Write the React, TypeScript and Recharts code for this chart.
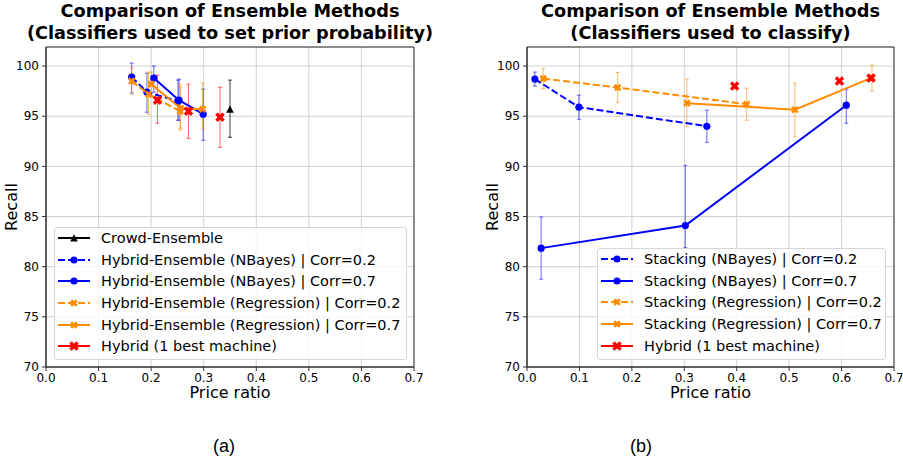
import React from "react";
import {
  ScatterChart,
  Scatter,
  XAxis,
  YAxis,
  CartesianGrid,
  ErrorBar,
  ReferenceArea,
} from "recharts";

const FONT = "'DejaVu Sans', sans-serif";

const xTicks = [0, 0.1, 0.2, 0.3, 0.4, 0.5, 0.6, 0.7];
const yTicks = [70, 75, 80, 85, 90, 95, 100];

// (a) classifiers used to set prior probability
const crowdA = [{ x: 0.35, y: 95.7, err: [2.8, 2.9] }];
const nbayes02A = [
  { x: 0.163, y: 98.9, err: [1.6, 1.4] },
  { x: 0.192, y: 97.4, err: [2.0, 1.9] },
  { x: 0.251, y: 96.5, err: [1.9, 2.1] },
];
const nbayes07A = [
  { x: 0.205, y: 98.8, err: [1.4, 1.2] },
  { x: 0.253, y: 96.6, err: [2.0, 2.1] },
  { x: 0.299, y: 95.2, err: [2.6, 2.5] },
];
const regr02A = [
  { x: 0.163, y: 98.5, err: [1.3, 1.3] },
  { x: 0.195, y: 97.2, err: [2.0, 2.2] },
  { x: 0.255, y: 95.5, err: [1.9, 2.7] },
];
const regr07A = [
  { x: 0.2, y: 98.2, err: [1.3, 1.2] },
  { x: 0.256, y: 95.8, err: [2.0, 2.1] },
  { x: 0.298, y: 95.7, err: [2.0, 2.6] },
];
const hybridA = [
  { x: 0.212, y: 96.6, err: [2.3, 2.5] },
  { x: 0.271, y: 95.5, err: [2.7, 2.7] },
  { x: 0.331, y: 94.9, err: [3.0, 3.0] },
];

// (b) classifiers used to classify
const nbayes02B = [
  { x: 0.015, y: 98.7, err: [0.7, 0.7] },
  { x: 0.099, y: 95.9, err: [1.2, 1.2] },
  { x: 0.343, y: 94.0, err: [1.6, 1.6] },
];
const nbayes07B = [
  { x: 0.027, y: 81.85, err: [3.1, 3.1] },
  { x: 0.302, y: 84.1, err: [2.2, 6.0] },
  { x: 0.609, y: 96.1, err: [1.8, 1.6] },
];
const regr02B = [
  { x: 0.031, y: 98.75, err: [1.0, 1.0] },
  { x: 0.173, y: 97.86, err: [1.5, 1.5] },
  { x: 0.419, y: 96.2, err: [1.6, 1.6] },
];
const regr07B = [
  { x: 0.305, y: 96.3, err: [2.35, 2.4] },
  { x: 0.511, y: 95.65, err: [2.7, 2.65] },
  { x: 0.658, y: 98.85, err: [1.35, 1.25] },
];
const hybridB = [
  { x: 0.396, y: 98.0 },
  { x: 0.596, y: 98.5 },
  { x: 0.656, y: 98.8 },
];

const BLUE = "#0000ff";
const ORANGE = "#ff8c00";
const RED = "#ff0000";

const seriesA = [
  { name: "Crowd-Ensemble", data: crowdA, color: "#000", err: "rgba(0,0,0,0.75)", dash: false, marker: "triangle", line: true },
  { name: "Hybrid-Ensemble (NBayes) | Corr=0.2", data: nbayes02A, color: BLUE, err: "rgba(0,0,255,0.6)", dash: true, marker: "circle", line: true },
  { name: "Hybrid-Ensemble (NBayes) | Corr=0.7", data: nbayes07A, color: BLUE, err: "rgba(0,0,255,0.6)", dash: false, marker: "circle", line: true },
  { name: "Hybrid-Ensemble (Regression) | Corr=0.2", data: regr02A, color: ORANGE, err: "rgba(255,140,0,0.6)", dash: true, marker: "smallX", line: true },
  { name: "Hybrid-Ensemble (Regression) | Corr=0.7", data: regr07A, color: ORANGE, err: "rgba(255,140,0,0.6)", dash: false, marker: "smallX", line: true },
  { name: "Hybrid (1 best machine)", data: hybridA, color: RED, err: "rgba(255,0,0,0.6)", dash: false, marker: "bigX", line: false },
];

const seriesB = [
  { name: "Stacking (NBayes) | Corr=0.2", data: nbayes02B, color: BLUE, err: "rgba(0,0,255,0.6)", dash: true, marker: "circle", line: true },
  { name: "Stacking (NBayes) | Corr=0.7", data: nbayes07B, color: BLUE, err: "rgba(0,0,255,0.6)", dash: false, marker: "circle", line: true },
  { name: "Stacking (Regression) | Corr=0.2", data: regr02B, color: ORANGE, err: "rgba(255,140,0,0.6)", dash: true, marker: "smallX", line: true },
  { name: "Stacking (Regression) | Corr=0.7", data: regr07B, color: ORANGE, err: "rgba(255,140,0,0.6)", dash: false, marker: "smallX", line: true },
  { name: "Hybrid (1 best machine)", data: hybridB, color: RED, err: null, dash: false, marker: "bigX", line: false },
];

const X_PTS = [
  [0.25, 0], [0.5, 0.25], [0.25, 0.5], [0, 0.25], [-0.25, 0.5], [-0.5, 0.25],
  [-0.25, 0], [-0.5, -0.25], [-0.25, -0.5], [0, -0.25], [0.25, -0.5], [0.5, -0.25],
];

function Marker({ kind, cx, cy, color }: any) {
  if (kind === "circle") return <circle cx={cx} cy={cy} r={3.6} fill={color} />;
  if (kind === "triangle")
    return (
      <polygon
        points={`${cx},${cy - 3.8} ${cx - 3.8},${cy + 3.6} ${cx + 3.8},${cy + 3.6}`}
        fill={color}
      />
    );
  const s = kind === "bigX" ? 9.5 : 7.5;
  const pts = X_PTS.map(([px, py]) => `${cx + px * s},${cy + py * s}`).join(" ");
  return <polygon points={pts} fill={color} />;
}

function Legend({ box, series }: any) {
  return (
    <div
      style={{
        position: "absolute",
        left: box.left,
        top: box.top,
        width: box.width,
        height: box.height,
        boxSizing: "border-box",
        border: "1px solid #d6d6d6",
        borderRadius: 3,
        background: "rgba(255,255,255,0.8)",
      }}
    >
      {series.map((s: any, i: number) => (
        <div
          key={s.name}
          style={{
            position: "absolute",
            left: 2,
            top: -1 + i * 21.7,
            height: 21.7,
            display: "flex",
            alignItems: "center",
            whiteSpace: "nowrap",
          }}
        >
          <svg width={34} height={14}>
            <line
              x1={1}
              y1={7}
              x2={33}
              y2={7}
              stroke={s.color}
              strokeWidth={2}
              strokeDasharray={s.dash ? "7 3" : undefined}
            />
            <Marker kind={s.marker} cx={17} cy={7} color={s.color} />
          </svg>
          <span style={{ marginLeft: 10, fontSize: 14.5, color: "#000", fontFamily: FONT }}>
            {s.name}
          </span>
        </div>
      ))}
    </div>
  );
}

function Panel({ left, width, plotLeft, plotRight, series, title, legendBox, ylabelX, caption, captionX }: any) {
  const center = (plotLeft + plotRight) / 2;
  const tick = { fontSize: 12, fill: "#000", fontFamily: FONT };
  return (
    <>
      <div style={{ position: "absolute", left, top: 0 }}>
        <ScatterChart
          width={width}
          height={460}
          margin={{ top: 47, right: left + width - plotRight, bottom: 63, left: plotLeft - left - 30 }}
        >
          <CartesianGrid stroke="#d0d0d0" />
          <XAxis
            type="number"
            dataKey="x"
            domain={[0, 0.7]}
            ticks={xTicks}
            interval={0}
            allowDataOverflow
            tickFormatter={(v: number) => v.toFixed(1)}
            tick={tick}
            tickSize={4}
            tickMargin={2}
            stroke="#333"
            height={30}
          />
          <YAxis
            type="number"
            dataKey="y"
            domain={[70, 101.9]}
            ticks={yTicks}
            interval={0}
            allowDataOverflow
            tick={tick}
            tickSize={4}
            tickMargin={3}
            stroke="#333"
            width={30}
          />
          <ReferenceArea x1={0} x2={0.7} y1={70} y2={101.9} fill="none" stroke="#333" strokeWidth={1} />
          {series.map((s: any) => (
            <Scatter
              key={s.name}
              name={s.name}
              data={s.data}
              isAnimationActive={false}
              line={
                s.line
                  ? { stroke: s.color, strokeWidth: 2, strokeDasharray: s.dash ? "7 3" : undefined }
                  : false
              }
              shape={(p: any) => <Marker kind={s.marker} cx={p.cx} cy={p.cy} color={s.color} />}
            >
              {s.err && (
                <ErrorBar dataKey="err" direction="y" width={2} stroke={s.err} strokeWidth={1} />
              )}
            </Scatter>
          ))}
        </ScatterChart>
      </div>
      <div
        style={{
          position: "absolute",
          left: center - 250,
          width: 500,
          top: 0,
          textAlign: "center",
          fontFamily: FONT,
          fontWeight: "bold",
          fontSize: 17.7,
          lineHeight: "22px",
          color: "#000",
        }}
      >
        {title.map((t: string) => (
          <div key={t}>{t}</div>
        ))}
      </div>
      <div
        style={{
          position: "absolute",
          left: center - 100,
          width: 200,
          top: 385,
          textAlign: "center",
          fontFamily: FONT,
          fontSize: 16,
          lineHeight: "16px",
        }}
      >
        Price ratio
      </div>
      <div
        style={{
          position: "absolute",
          left: ylabelX - 50,
          width: 100,
          top: 197,
          height: 20,
          lineHeight: "20px",
          textAlign: "center",
          fontFamily: FONT,
          fontSize: 16,
          transform: "rotate(-90deg)",
        }}
      >
        Recall
      </div>
      <Legend box={legendBox} series={series} />
      <div
        style={{
          position: "absolute",
          left: captionX - 30,
          width: 60,
          top: 435,
          textAlign: "center",
          fontFamily: "'Liberation Sans', sans-serif",
          fontSize: 18,
          lineHeight: "22px",
        }}
      >
        {caption}
      </div>
    </>
  );
}

export default function App() {
  return (
    <div style={{ position: "absolute", left: 0, top: 0, width: 903, height: 460, background: "#fff" }}>
      <Panel
        left={0}
        width={460}
        plotLeft={46}
        plotRight={414}
        series={seriesA}
        title={["Comparison of Ensemble Methods", "(Classifiers used to set prior probability)"]}
        legendBox={{ left: 54, top: 227, width: 353, height: 133 }}
        ylabelX={12}
        caption="(a)"
        captionX={224}
      />
      <Panel
        left={460}
        width={443}
        plotLeft={527}
        plotRight={894}
        series={seriesB}
        title={["Comparison of Ensemble Methods", "(Classifiers used to classify)"]}
        legendBox={{ left: 597, top: 248, width: 289, height: 112 }}
        ylabelX={493}
        caption="(b)"
        captionX={641}
      />
    </div>
  );
}
